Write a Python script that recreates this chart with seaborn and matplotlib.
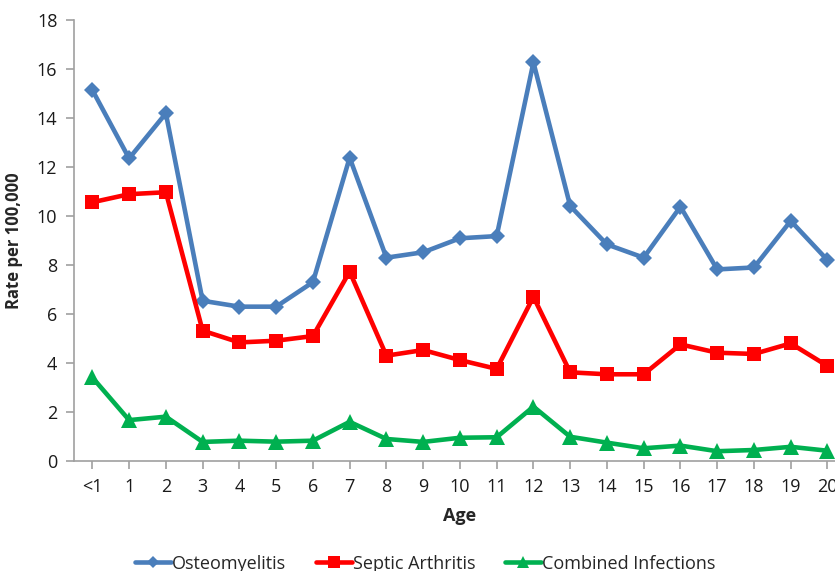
import matplotlib
matplotlib.use("Agg")
import matplotlib.pyplot as plt
import seaborn as sns
import pandas as pd

ages = ["<1", "1", "2", "3", "4", "5", "6", "7", "8", "9", "10",
        "11", "12", "13", "14", "15", "16", "17", "18", "19", "20"]

osteomyelitis = [15.14, 12.35, 14.19, 6.54, 6.30, 6.30, 7.30, 12.38, 8.30, 8.52, 9.09,
                 9.18, 16.27, 10.41, 8.84, 8.30, 10.38, 7.82, 7.90, 9.80, 8.20]
septic_arthritis = [10.56, 10.89, 10.97, 5.32, 4.84, 4.91, 5.10, 7.73, 4.30, 4.53, 4.12,
                    3.76, 6.70, 3.62, 3.54, 3.54, 4.76, 4.42, 4.37, 4.80, 3.88]
combined_infections = [3.41, 1.67, 1.81, 0.78, 0.83, 0.79, 0.83, 1.60, 0.90, 0.78, 0.95,
                       0.97, 2.22, 0.99, 0.75, 0.52, 0.63, 0.40, 0.45, 0.58, 0.42]

series_names = ["Osteomyelitis", "Septic Arthritis", "Combined Infections"]
series_values = [osteomyelitis, septic_arthritis, combined_infections]
colors = ["#4A7EBB", "#FF0000", "#00B050"]
markers = ["D", "s", "^"]
marker_sizes = [8, 10, 11]

sns.set_theme(style="white")
plt.rcParams["font.family"] = ["Open Sans", "DejaVu Sans"]

fig = plt.figure(figsize=(8.35, 5.71), dpi=100)
ax = fig.add_axes([0.0886, 0.1926, 0.9244, 0.7724])

for name, vals, col, mk, ms in zip(series_names, series_values, colors, markers, marker_sizes):
    df = pd.DataFrame({"pos": range(len(ages)), "rate": vals})
    sns.lineplot(data=df, x="pos", y="rate", ax=ax, color=col, linewidth=3.3,
                 marker=mk, markersize=ms, markeredgewidth=0, label=name)

ax.set_xlim(-0.5, len(ages) - 0.5)
ax.set_ylim(0, 18)
ax.set_yticks(range(0, 19, 2))
ax.set_xticks(range(len(ages)))
ax.set_xticklabels(ages)

ax.set_xlabel("Age", fontsize=13, fontweight="bold", labelpad=8)
ax.set_ylabel("Rate per 100,000", fontsize=12, fontweight="bold", labelpad=10)

for side in ["top", "right"]:
    ax.spines[side].set_visible(False)
for side in ["left", "bottom"]:
    ax.spines[side].set_color("#A0A0A0")
    ax.spines[side].set_linewidth(1.2)

ax.tick_params(axis="both", which="major", direction="out", length=6, width=1.2,
               color="#A0A0A0", labelsize=13, labelcolor="#1a1a1a",
               bottom=True, left=True, pad=6)

ax.legend_.remove()
handles, labels = ax.get_legend_handles_labels()
fig.legend(handles, labels, loc="center", bbox_to_anchor=(0.509, 0.013), ncol=3,
           frameon=False, fontsize=13, handlelength=2.0, handletextpad=0.05,
           columnspacing=1.65, borderaxespad=0, markerscale=0.8)

fig.savefig("out.png", dpi=100)
